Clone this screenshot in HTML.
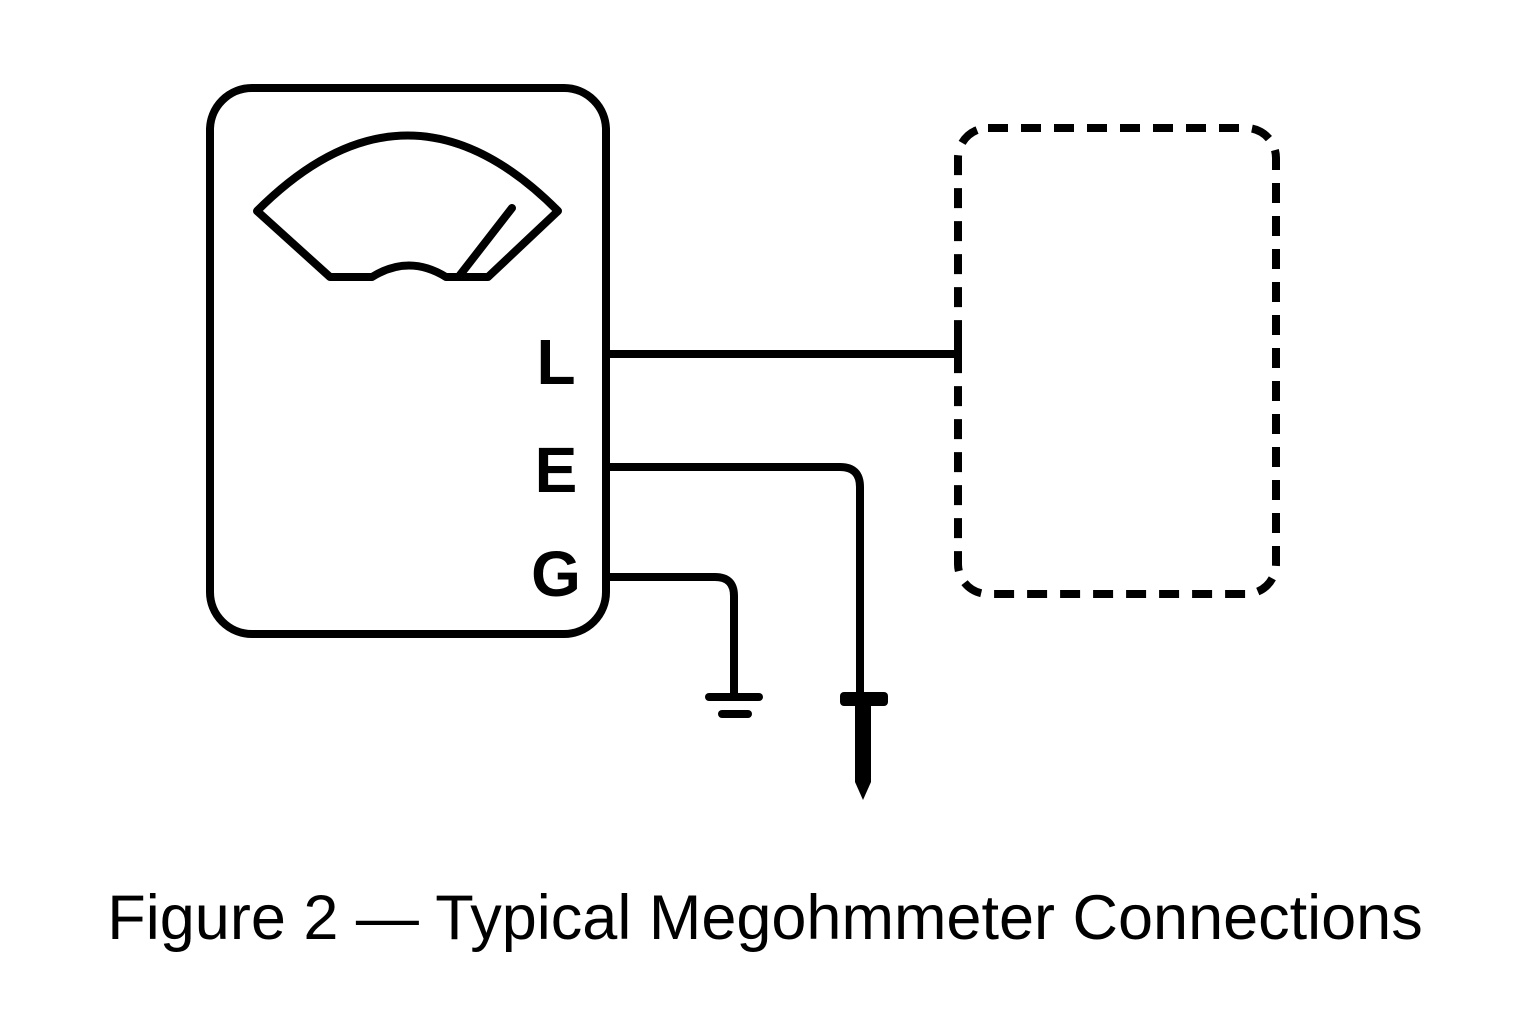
<!DOCTYPE html>
<html><head><style>body{margin:0;background:#fff}svg{display:block}</style></head><body>
<svg width="1536" height="1024" viewBox="0 0 1536 1024" xmlns="http://www.w3.org/2000/svg">
<g fill="none" stroke="#000" stroke-width="8" stroke-linejoin="round" stroke-linecap="round">
<rect x="210" y="88" width="396" height="546" rx="42"/>
<path d="M257 211 Q408 60 558 211 L488 277 L446 277 Q409 254 372 277 L330 277 Z"/>
<line x1="460" y1="275" x2="512" y2="208"/>
<rect x="958" y="128" width="318" height="466" rx="30" stroke-dasharray="20 13" stroke-linecap="butt"/>
<line x1="606" y1="354" x2="958" y2="354" stroke-linecap="butt"/>
<line x1="958" y1="328" x2="958" y2="358" stroke-linecap="butt"/>
<path d="M606 467 L840 467 Q860 467 860 487 L860 700" stroke-linecap="butt"/>
<path d="M606 577 L715 577 Q734 577 734 596 L734 697" stroke-linecap="butt"/>
<line x1="709" y1="697" x2="759" y2="697" stroke-width="8"/>
<line x1="722" y1="714" x2="748" y2="714" stroke-width="8"/>
</g>
<rect x="840" y="692" width="48" height="14" rx="4"/>
<path d="M855 704 L871 704 L871 782 L863 800 L855 782 Z"/>
<g font-family="Liberation Sans, sans-serif" font-weight="bold" font-size="64" text-anchor="middle">
<text x="556" y="384">L</text>
<text x="556" y="492">E</text>
<text x="556" y="596">G</text>
</g>
<text x="765" y="939" font-family="Liberation Sans, sans-serif" font-size="63" text-anchor="middle">Figure 2 — Typical Megohmmeter Connections</text>
</svg>
</body></html>
